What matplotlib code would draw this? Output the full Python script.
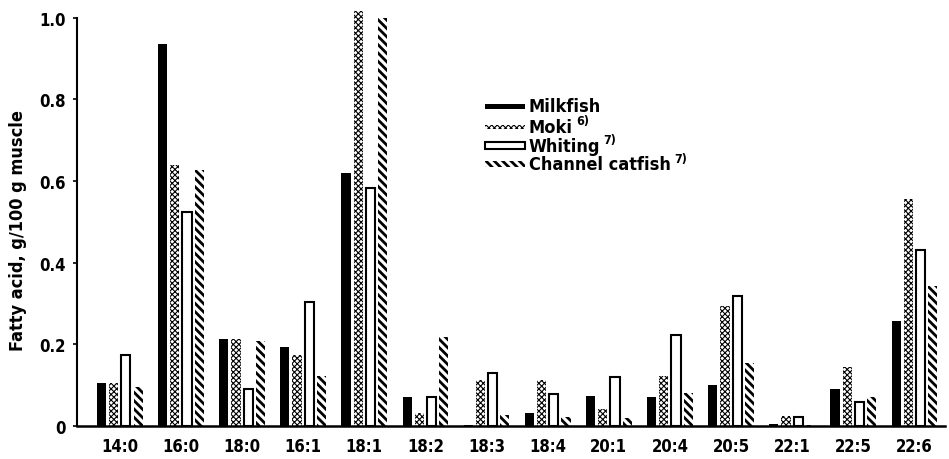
import matplotlib
matplotlib.use("Agg")
import matplotlib.pyplot as plt
from matplotlib.patches import Rectangle
import numpy as np

categories = ["14:0", "16:0", "18:0", "16:1", "18:1", "18:2", "18:3",
              "18:4", "20:1", "20:4", "20:5", "22:1", "22:5", "22:6"]
milkfish = [0.105, 0.935, 0.214, 0.194, 0.619, 0.072, 0.003,
            0.033, 0.074, 0.072, 0.100, 0.004, 0.090, 0.256]
moki = [0.105, 0.640, 0.214, 0.173, 1.017, 0.033, 0.112,
        0.112, 0.041, 0.123, 0.294, 0.025, 0.145, 0.556]
whiting = [0.174, 0.525, 0.090, 0.304, 0.583, 0.070, 0.129,
           0.079, 0.121, 0.222, 0.319, 0.021, 0.060, 0.431]
catfish = [0.095, 0.627, 0.207, 0.123, 1.000, 0.219, 0.026,
           0.023, 0.020, 0.080, 0.154, 0.003, 0.071, 0.343]
yticks = [0, 0.2, 0.4, 0.6, 0.8, 1.0]
ytick_labels = ["0", "0.2", "0.4", "0.6", "0.8", "1.0"]

plt.rcParams["font.family"] = ["DejaVu Sans"]
plt.rcParams["font.stretch"] = "condensed"

W, H = 949, 460
fig = plt.figure(figsize=(W / 100, H / 100), dpi=100)
ax = fig.add_axes([77 / W, (H - 427) / H, (945 - 77) / W, (427 - 18.7) / H])

x = np.arange(len(categories))
bw = 0.15
MOKI_HATCH, MOKI_HLW = "xxxxxx", 0.8
CAT_HATCH, CAT_HLW = "\\" * 4, 2.0


def hatched_bars(xpos, vals, hatch, lw_hatch, **kw):
    with plt.rc_context({"hatch.linewidth": lw_hatch}):
        bars = ax.bar(xpos, vals, bw, hatch=hatch, clip_on=False, **kw)
    for b in bars:
        if hasattr(b, "set_hatch_linewidth"):
            b.set_hatch_linewidth(lw_hatch)
    return bars


ax.bar(x - 0.3, milkfish, bw, color="black", linewidth=0, clip_on=False)
hatched_bars(x - 0.1, moki, MOKI_HATCH, MOKI_HLW, facecolor="white", edgecolor="black", linewidth=0)
ax.bar(x + 0.1, whiting, bw, facecolor="white", edgecolor="black", linewidth=1.5, clip_on=False)
hatched_bars(x + 0.3, catfish, CAT_HATCH, CAT_HLW, facecolor="white", edgecolor="black", linewidth=0)

ax.set_xlim(-0.70, 13.5)
ax.set_ylim(0, 1.0)
ax.spines["top"].set_visible(False)
ax.spines["right"].set_visible(False)
ax.spines["left"].set_linewidth(1.5)
ax.spines["bottom"].set_linewidth(1.8)
ax.set_yticks(yticks)
ax.set_yticklabels(ytick_labels, fontsize=12, fontweight="bold")
ax.tick_params(axis="y", direction="out", length=3, width=1.2, pad=5)
ax.set_xticks(x)
ax.set_xticklabels(categories, fontsize=12, fontweight="bold")
ax.tick_params(axis="x", length=0, pad=8)
ax.set_ylabel("Fatty acid, g/100 g muscle", fontsize=13, fontweight="bold")
ax.yaxis.set_label_coords(-(77 - 27) / (945 - 77), 0.48)


# manual legend (figure pixel coordinates)
def fx(px):
    return px / W


def fy(py):
    return (H - py) / H


entries = [
    ("Milkfish", None, dict(facecolor="black", linewidth=0), 5, None, 0),
    ("Moki", "6)", dict(facecolor="white", edgecolor="black", linewidth=0), 4, MOKI_HATCH, MOKI_HLW),
    ("Whiting", "7)", dict(facecolor="white", edgecolor="black", linewidth=1.5), 7, None, 0),
    ("Channel catfish", "7)", dict(facecolor="white", edgecolor="black", linewidth=0), 6, CAT_HATCH, CAT_HLW),
]
row_y = [107.5, 128, 146.5, 165]
for (label, sup, style, hgt, hatch, hlw), yc in zip(entries, row_y):
    with plt.rc_context({"hatch.linewidth": hlw if hlw else 1.0}):
        r = Rectangle((fx(485), fy(yc + hgt / 2)), fx(525) - fx(485), (hgt) / H,
                      transform=fig.transFigure, hatch=hatch, **style)
    if hatch and hasattr(r, "set_hatch_linewidth"):
        r.set_hatch_linewidth(hlw)
    fig.add_artist(r)
    t = fig.text(fx(529), fy(yc), label, fontsize=13, fontweight="bold",
                 ha="left", va="center")
    if sup:
        fig.canvas.draw()
        bb = t.get_window_extent()
        fig.text((bb.x1 + 3) / W, fy(yc - 6), sup, fontsize=9, fontweight="bold",
                 ha="left", va="center")

fig.savefig("out.png", dpi=100, facecolor="white")
